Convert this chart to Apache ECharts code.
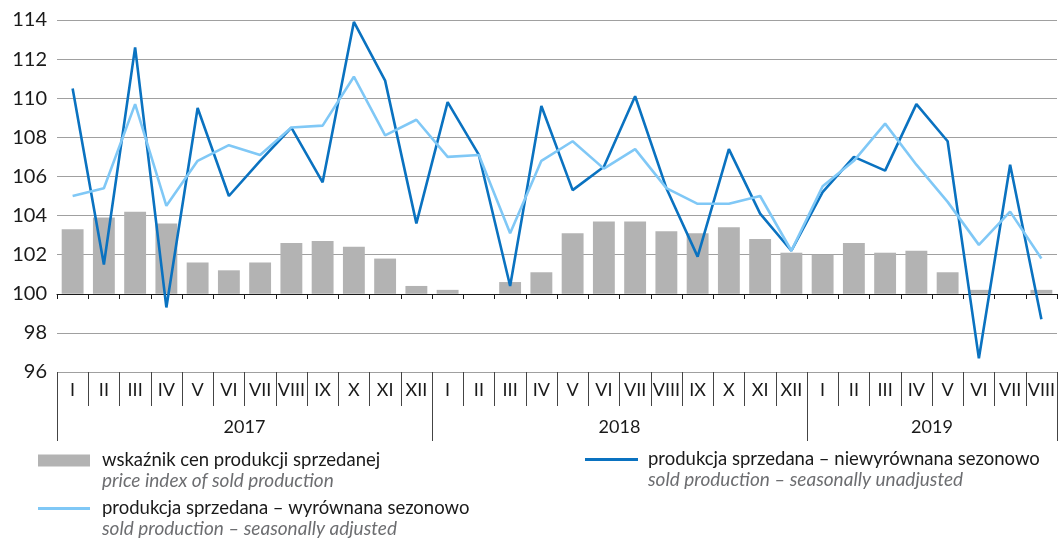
<!DOCTYPE html>
<html><head><meta charset="utf-8">
<script src="https://cdn.jsdelivr.net/npm/echarts@6/dist/echarts.min.js"></script>
<style>html,body{margin:0;padding:0;background:#fff}#c{width:1062px;height:540px}</style>
</head><body><div id="c"></div>
<script>
const months = ['I','II','III','IV','V','VI','VII','VIII','IX','X','XI','XII',
                'I','II','III','IV','V','VI','VII','VIII','IX','X','XI','XII',
                'I','II','III','IV','V','VI','VII','VIII'];
const years = ['2017','2018','2019'];
const monthsPerYear = [12, 12, 8];
const priceIndex = [103.3,103.9,104.2,103.6,101.6,101.2,101.6,102.6,102.7,102.4,101.8,100.4,
                    100.2,100.0,100.6,101.1,103.1,103.7,103.7,103.2,103.1,103.4,102.8,102.1,
                    102.0,102.6,102.1,102.2,101.1,100.2,100.0,100.2];
const unadjusted = [110.5,101.5,112.6,99.3,109.5,105.0,106.8,108.5,105.7,113.9,110.9,103.6,
                    109.8,107.1,100.4,109.6,105.3,106.5,110.1,105.4,101.9,107.4,104.1,102.2,
                    105.2,107.0,106.3,109.7,107.8,96.7,106.6,98.7];
const adjusted = [105.0,105.4,109.7,104.5,106.8,107.6,107.1,108.5,108.6,111.1,108.1,108.9,
                  107.0,107.1,103.1,106.8,107.8,106.4,107.4,105.4,104.6,104.6,105.0,102.2,
                  105.5,106.8,108.7,106.6,104.7,102.5,104.2,101.8];
const yMin = 96, yMax = 114, yStep = 2, baseValue = 100;
const names = {
  bar: ['wskaźnik cen produkcji sprzedanej', 'price index of sold production'],
  unadj: ['produkcja sprzedana – niewyrównana sezonowo', 'sold production – seasonally unadjusted'],
  adj: ['produkcja sprzedana – wyrównana sezonowo', 'sold production – seasonally adjusted']
};

const FONT = 'Lato';
const yearBounds = [0];
monthsPerYear.forEach(n => yearBounds.push(yearBounds[yearBounds.length - 1] + n));
const yearCenters = years.map((y, i) => (yearBounds[i] + yearBounds[i + 1]) / 2);

const chart = echarts.init(document.getElementById('c'));
const enOf = {};
Object.values(names).forEach(p => enOf[p[0]] = p[1]);
function legendText(pad) {
  return {
    fontFamily: FONT, fontSize: 18.5,
    rich: {
      s: {fontFamily: FONT, fontSize: 18.5, lineHeight: 20, padding: [0, 0, 0, pad]},
      a: {fontFamily: FONT, fontSize: 18.5, lineHeight: 20, color: '#1a1a1a', padding: [0, 0, 0, pad]},
      b: {fontFamily: FONT, fontSize: 19, lineHeight: 20, color: '#6d6e71', fontStyle: 'italic', padding: [0, 0, 0, pad]}
    }
  };
}
const legendFmt = n => '{s| }\n{a|' + n + '}\n{b|' + enOf[n] + '}';
function mkLegend(name, left, top, w, h, pad) {
  return {data: [name], left: left, top: top, padding: 0, itemWidth: w, itemHeight: h, icon: 'rect',
    formatter: legendFmt, textStyle: legendText(pad), selectedMode: false};
}

chart.setOption({
  animation: false,
  backgroundColor: '#fff',
  grid: [
    {left: 57, right: 5, top: 20, height: 352},
    {left: 57, right: 5, top: 20, height: 274}
  ],
  legend: [
    mkLegend(names.bar[0], 38, 431, 52, 12, 7),
    mkLegend(names.unadj[0], 585, 430, 53, 3, 5),
    mkLegend(names.adj[0], 38, 479, 52, 3, 7)
  ],
  xAxis: [
    {type: 'category', gridIndex: 0, data: months, position: 'bottom',
     axisLine: {show: false},
     axisTick: {show: true, interval: 0, length: 34, lineStyle: {color: '#444', width: 1}},
     axisLabel: {interval: 0, margin: 9, fontFamily: FONT, fontSize: 18, color: '#1a1a1a'}},
    {type: 'value', gridIndex: 0, min: 0, max: months.length, position: 'bottom',
     splitLine: {show: false}, axisLine: {show: false},
     axisTick: {show: true, customValues: yearBounds, length: 69, lineStyle: {color: '#444', width: 1}},
     axisLabel: {customValues: yearCenters, margin: 46, fontFamily: FONT, fontSize: 18, color: '#1a1a1a',
       formatter: v => years[yearCenters.indexOf(v)] || ''}},
    {type: 'category', gridIndex: 1, data: months, position: 'bottom',
     axisLine: {show: true, lineStyle: {color: '#1a1a1a', width: 1}},
     axisTick: {show: true, interval: 0, length: 5, lineStyle: {color: '#1a1a1a', width: 1}},
     axisLabel: {show: false}}
  ],
  yAxis: [
    {type: 'value', gridIndex: 0, min: yMin, max: yMax, interval: yStep,
     axisLine: {show: false}, axisTick: {show: false},
     axisLabel: {margin: 10, fontFamily: FONT, fontSize: 20, color: '#1a1a1a'},
     splitLine: {lineStyle: {color: '#a0a0a0', width: 1}}},
    {type: 'value', gridIndex: 1, min: 0, max: 1, show: false}
  ],
  series: [
    {type: 'custom', name: names.bar[0], xAxisIndex: 0, yAxisIndex: 0,
     data: priceIndex.map((v, i) => [i, v]),
     encode: {x: 0, y: 1},
     itemStyle: {color: '#b3b3b3'},
     renderItem: function (params, api) {
       const i = api.value(0), v = api.value(1);
       const p0 = api.coord([i, baseValue]);
       const p1 = api.coord([i, v]);
       const w = api.size([1, 0])[0] * 0.7;
       return {type: 'rect',
         shape: {x: p0[0] - w / 2, y: Math.min(p0[1], p1[1]), width: w, height: Math.abs(p0[1] - p1[1])},
         style: {fill: '#b3b3b3'}};
     }},
    {type: 'line', name: names.unadj[0], xAxisIndex: 0, yAxisIndex: 0, data: unadjusted,
     symbol: 'none', lineStyle: {color: '#0a72c0', width: 2.6}, itemStyle: {color: '#0a72c0'}},
    {type: 'line', name: names.adj[0], xAxisIndex: 0, yAxisIndex: 0, data: adjusted,
     symbol: 'none', lineStyle: {color: '#80c8f6', width: 2.6}, itemStyle: {color: '#80c8f6'}}
  ]
});
</script></body></html>
